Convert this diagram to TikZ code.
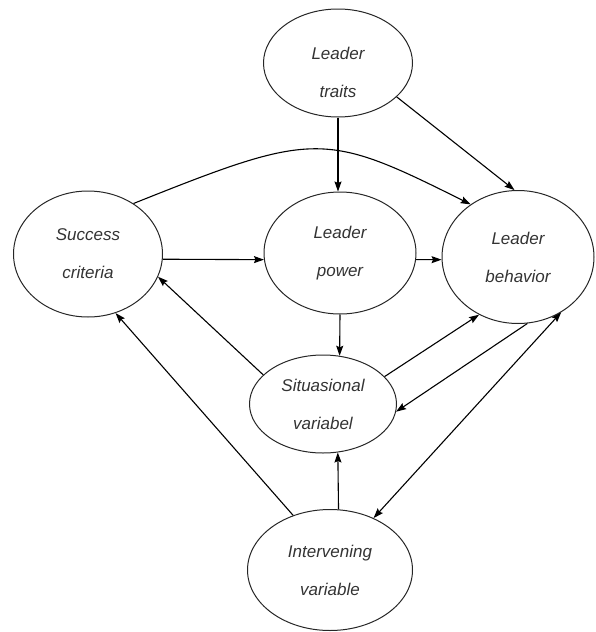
\documentclass[tikz,border=0pt]{standalone}
\usepackage{fontspec}
\setmainfont{Liberation Sans}
\usetikzlibrary{arrows.meta,shapes.geometric}
\begin{document}
\begin{tikzpicture}[x=1pt,y=-1pt,
  oval/.style={draw=black!85, ellipse, line width=1pt, inner sep=0pt, align=center,
    font={\fontsize{17}{38}\selectfont\itshape}, text=black!80},
  txt/.style={inner sep=0pt, align=center, font={\fontsize{17}{38}\selectfont\itshape}, text=black!80},
  tip/.style={Stealth[length=10pt,width=7pt,inset=1.5pt]},
  arr/.style={line width=1.1pt, -{Stealth[length=10pt,width=7pt,inset=1.5pt]}},
  darr/.style={line width=1.1pt, {Stealth[length=10pt,width=7pt,inset=1.5pt]}-{Stealth[length=10pt,width=7pt,inset=1.5pt]}}]
\useasboundingbox (0,0) rectangle (596,632);
\node[oval, minimum width=149pt, minimum height=108pt] (traits) at (338,63) {};
\node[txt] (traitslbl) at (338,72) {Leader\\traits};
\node[oval, minimum width=149pt, minimum height=126pt] (success) at (88,254) {Success\\criteria};
\node[oval, minimum width=152pt, minimum height=122pt] (power) at (340,253) {Leader\\power};
\node[oval, minimum width=152pt, minimum height=133pt] (behavior) at (518,257) {Leader\\behavior};
\node[oval, minimum width=147pt, minimum height=98pt] (sit) at (323,404) {Situasional\\variabel};
\node[oval, minimum width=165pt, minimum height=121pt] (int) at (330,570) {Intervening\\variable};

\draw[arr] (traits.south) -- (traits.south |- power.north);
\draw[arr] (traits.-30) -- (behavior.93);
\draw[arr] (success.48) .. controls (315,131) and (324,131) .. (behavior.132);
\draw[arr] (success.-4) -- (power.185);
\draw[arr] (power.-5) -- (behavior.182);
\draw[arr] (power.south) -- (sit.71);
\draw[arr] (int.82) -- (sit.-73);
\draw[arr] (sit.154) -- (success.-18);
\draw[arr] (int.124) -- (success.-65);
\draw[arr] (sit.24) -- (behavior.236);
\draw[arr] (behavior.-82) -- (sit.-6);
\draw[darr] (int.50) -- (behavior.-52);
\end{tikzpicture}
\end{document}
